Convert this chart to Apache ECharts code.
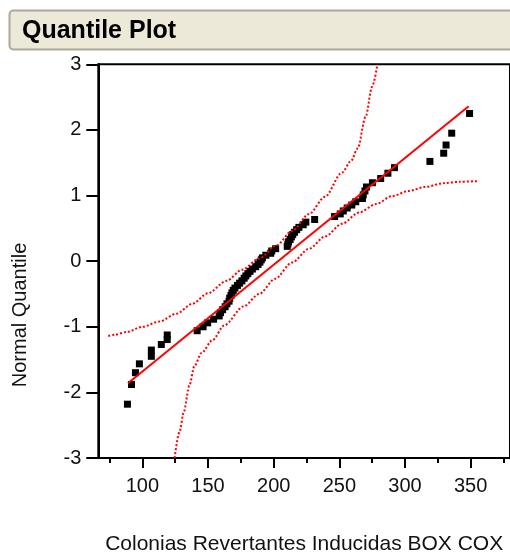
<!DOCTYPE html>
<html>
<head>
<meta charset="utf-8">
<script src="https://cdn.jsdelivr.net/npm/echarts@6.0.0/dist/echarts.min.js"></script>
<style>
  html, body { margin: 0; padding: 0; background: #fff; }
  .chart { width: 510px; height: 560px; }
</style>
</head>
<body>
<div class="chart"></div>
<script>
// valores ordenados (eje x) y su cuantil normal (eje y)
var quantX = [88.6, 91.7, 94.7, 97.7, 106.8, 106.8, 114.4, 118.9, 118.9, 141.7,
  146.2, 149.7, 154.2, 158.5, 159.5, 161.1, 163, 164.4, 166, 166.5,
  167.4, 168.2, 169.2, 170.5, 172.4, 174, 175.8, 177.5, 178.8, 180.3,
  182, 183.8, 186.3, 188.1, 189.5, 190.5, 191.4, 194, 197.7, 198.5,
  201.5, 210.3, 210.8, 211.3, 212.5, 213.5, 214.5, 215.8, 217.5, 219.2,
  222.5, 224.5, 231.2, 246.4, 250.7, 253, 256, 259.5, 262.5, 267.6,
  268.2, 269.5, 270.7, 275.2, 281.5, 287, 292, 319, 329.5, 331.3,
  335.6, 349.2];
var quantY = [-2.18, -1.88, -1.7, -1.565, -1.45, -1.355, -1.27, -1.195, -1.125, -1.06,
  -1.0, -0.94, -0.885, -0.835, -0.785, -0.74, -0.695, -0.65, -0.61, -0.565,
  -0.525, -0.485, -0.445, -0.41, -0.37, -0.335, -0.3, -0.26, -0.225, -0.19,
  -0.155, -0.12, -0.085, -0.05, -0.015, 0.02, 0.05, 0.09, 0.12, 0.155,
  0.19, 0.225, 0.26, 0.295, 0.33, 0.37, 0.405, 0.44, 0.48, 0.515,
  0.555, 0.595, 0.635, 0.68, 0.72, 0.765, 0.81, 0.855, 0.905, 0.955,
  1.01, 1.07, 1.13, 1.195, 1.26, 1.34, 1.425, 1.52, 1.645, 1.77,
  1.95, 2.25];

// recta normal ajustada
var fitX = [89, 348.5];
var fitY = [-1.86, 2.36];

// bandas de confianza
var upperX = [74, 79, 88, 100, 113, 126, 138, 150, 164, 176, 189, 202, 214, 227, 239, 252, 259, 264, 270, 275, 279];
var upperY = [-1.14, -1.12, -1.08, -1.0, -0.92, -0.8, -0.65, -0.49, -0.3, -0.13, 0.04, 0.24, 0.46, 0.72, 0.98, 1.35, 1.53, 1.72, 2.2, 2.66, 3.0];
var lowerX = [124.5, 128.3, 131.5, 135.8, 139.6, 145, 153.5, 162.3, 177, 189, 201, 214, 227, 239.4, 252, 265, 278, 290, 303, 315, 330, 342, 355.5];
var lowerY = [-3.0, -2.6, -2.3, -1.89, -1.6, -1.4, -1.2, -0.98, -0.69, -0.5, -0.27, -0.02, 0.19, 0.38, 0.57, 0.74, 0.87, 0.99, 1.07, 1.13, 1.19, 1.21, 1.22];

// etiquetas de los ejes
var xMajor = [100, 150, 200, 250, 300, 350];
var xMinor = [75, 125, 175, 225, 275, 325, 375];

function pairs(xs, ys) {
  return xs.map(function (x, i) { return [x, ys[i]]; });
}

(function () {
  var myChart = echarts.init(document.querySelector(".chart"));
  var font = "'Liberation Sans', Arial, sans-serif";
  var option = {
    animation: false,
    backgroundColor: "#fff",
    grid: {
      left: 98.3,
      top: 64.3,
      width: 414,
      height: 395.7,
      show: true,
      borderColor: "#000",
      borderWidth: 2,
      backgroundColor: "#fff"
    },
    xAxis: [
      {
        type: "value",
        min: 66.4,
        max: 380,
        position: "bottom",
        name: "Colonias Revertantes Inducidas BOX COX",
        nameLocation: "middle",
        nameGap: 76,
        nameTextStyle: { color: "#111", fontSize: 21, fontFamily: font },
        axisLine: { show: true, onZero: false, lineStyle: { color: "#000", width: 2 } },
        axisTick: { show: true, customValues: xMajor, length: 10, lineStyle: { color: "#000", width: 2 } },
        axisLabel: { customValues: xMajor, color: "#111", fontSize: 20, fontFamily: font, margin: 18 },
        splitLine: { show: false }
      },
      {
        type: "value",
        min: 66.4,
        max: 380,
        position: "bottom",
        axisLine: { show: false, onZero: false },
        axisTick: { show: true, customValues: xMinor, length: 5, lineStyle: { color: "#000", width: 2 } },
        axisLabel: { show: false },
        splitLine: { show: false }
      }
    ],
    yAxis: {
      type: "value",
      min: -3,
      max: 3,
      interval: 1,
      axisLine: { show: true, onZero: false, lineStyle: { color: "#000", width: 2 } },
      axisTick: { show: true, length: 12, lineStyle: { color: "#000", width: 2 } },
      axisLabel: { color: "#111", fontSize: 20, fontFamily: font, margin: 17 },
      splitLine: { show: false }
    },
    graphic: [
      {
        type: "rect",
        shape: { x: 9.5, y: 10.5, width: 530, height: 39, r: 4 },
        style: { fill: "#ECE9D8", stroke: "#ACA899", lineWidth: 2 },
        silent: true
      },
      {
        type: "text",
        x: 22,
        y: 31,
        style: {
          text: "Quantile Plot",
          fill: "#000",
          font: "bold 25px " + font,
          textVerticalAlign: "middle"
        },
        silent: true
      },
      {
        type: "text",
        x: 20,
        y: 315,
        rotation: Math.PI / 2,
        style: {
          text: "Normal Quantile",
          fill: "#111",
          font: "20px " + font,
          textAlign: "center",
          textVerticalAlign: "middle"
        },
        silent: true
      }
    ],
    series: [
      {
        name: "datos",
        type: "scatter",
        symbol: "rect",
        symbolSize: 7,
        itemStyle: { color: "#000", opacity: 1 },
        data: pairs(quantX, quantY),
        z: 2
      },
      {
        name: "ajuste",
        type: "line",
        symbol: "none",
        lineStyle: { color: "#ff0000", width: 2 },
        data: pairs(fitX, fitY),
        z: 3
      },
      {
        name: "banda sup",
        type: "line",
        symbol: "none",
        smooth: 0.3,
        smoothMonotone: "x",
        lineStyle: { color: "#ff0000", width: 2, type: [2, 2] },
        data: pairs(upperX, upperY),
        z: 3
      },
      {
        name: "banda inf",
        type: "line",
        symbol: "none",
        smooth: 0.3,
        smoothMonotone: "x",
        lineStyle: { color: "#ff0000", width: 2, type: [2, 2] },
        data: pairs(lowerX, lowerY),
        z: 3
      }
    ]
  };
  myChart.setOption(option);
  window.addEventListener("resize", function () {
    myChart.resize();
  });
})();
</script>
</body>
</html>
